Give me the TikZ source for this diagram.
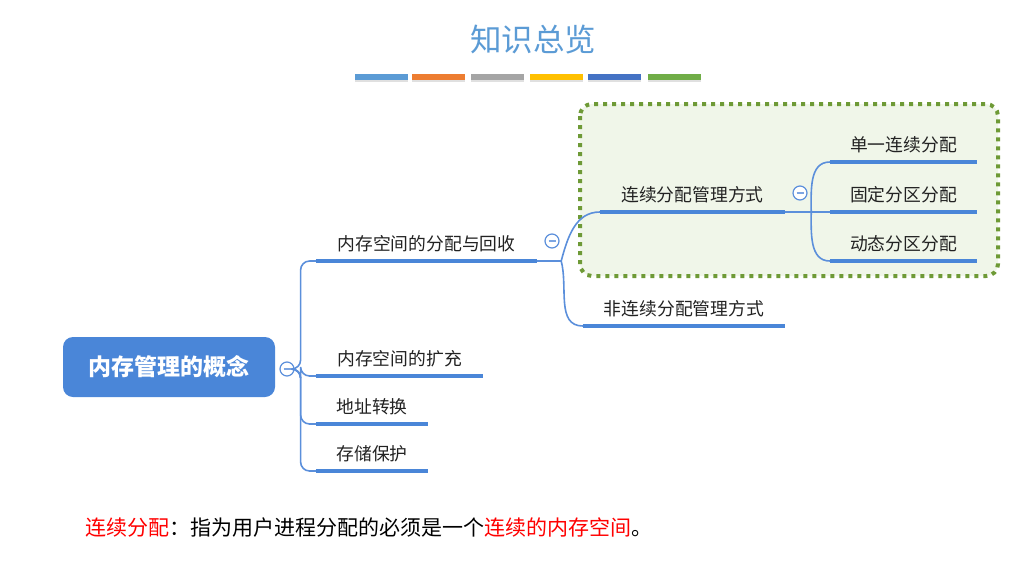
\documentclass[tikz,border=0pt]{standalone}
\usepackage{fontspec}
\setmainfont{Noto Sans CJK SC}
\usetikzlibrary{positioning,calc}
\definecolor{mapblue}{HTML}{4A86D8}
\definecolor{linkblue}{HTML}{5B8FDB}
\definecolor{titleblue}{HTML}{5B9BD5}
\definecolor{boxgreen}{HTML}{6E9A36}
\definecolor{boxfill}{HTML}{F0F6E9}
\definecolor{textdark}{HTML}{222222}

\begin{document}
\begin{tikzpicture}[
  x=1pt,y=-1pt,
  line cap=butt,
  rootbox/.style={fill=mapblue,rounded corners=10pt,minimum width=212pt,minimum height=60pt,
    text=white,font=\fontsize{23}{26}\selectfont\bfseries},
  branch/.style={anchor=south,inner sep=0pt,minimum height=34pt,text=textdark,
    font=\fontsize{17.8}{20}\selectfont},
  uline/.style={draw=mapblue,line width=4pt},
  link/.style={draw=linkblue,line width=1.6pt},
  fold/.style={circle,draw=linkblue,line width=1.2pt,fill=white,minimum size=14pt,inner sep=0pt,
    path picture={\draw[linkblue!80,line width=1.2pt] ([xshift=-3.5pt]path picture bounding box.center) -- ([xshift=3.5pt]path picture bounding box.center);}},
  groupbox/.style={draw=boxgreen,fill=boxfill,line width=4pt,rounded corners=12pt,dash pattern=on 4pt off 5pt},
  bar/.style={minimum width=53pt,minimum height=6pt,inner sep=0pt}
]%
  \useasboundingbox (0,0) rectangle (1022,562);

  % title
  \node[text=titleblue,font=\fontsize{31.5}{34}\selectfont] (title) at (533,40) {知识总览};
  \foreach \x/\c [count=\i] in {381/5B9BD5,438/ED7D31,497/A5A5A5,556/FFC000,614/4472C4,674/70AD47}{
    \definecolor{barc}{HTML}{\c}
    \fill[black,opacity=0.12] (\x-26,79) rectangle (\x+27,82);
    \node[bar,fill=barc] (bar\i) at (\x,77) {};
  }

  % dotted frame
  \draw[groupbox] (580,104) rectangle (998,276);

  % root
  \node[rootbox] (root) at (169,367) {内存管理的概念};
  \node[fold] (c1) at (287,369) {};

  % first level
  \node[branch,minimum width=221pt] (alloc) at (426.5,261) {内存空间的分配与回收};
  \node[branch,minimum width=167pt] (expand) at (399.5,376) {内存空间的扩充};
  \node[branch,minimum width=112pt] (addr) at (372,424) {地址转换};
  \node[branch,minimum width=112pt] (prot) at (372,471) {存储保护};

  \foreach \n in {alloc,expand,addr,prot}
    \draw[link,rounded corners=9pt] (c1.east) -- ++(6,0) |- (\n.south west);

  % second level
  \node[fold] (c2) at (552,241) {};
  \node[branch,minimum width=185pt] (cont) at (692.5,212) {连续分配管理方式};
  \node[branch,minimum width=202pt] (noncont) at (684,326) {非连续分配管理方式};
  \draw[link] (alloc.south east) -- ++(24,0) coordinate (s1);
  \draw[link] (s1) to[out=75,in=180] (cont.south west);
  \draw[link] (s1) to[out=-75,in=180] (noncont.south west);

  % third level
  \node[fold] (c3) at (800,193) {};
  \node[branch,minimum width=147pt] (single) at (903.5,162) {单一连续分配};
  \node[branch,minimum width=147pt] (fixed) at (903.5,212) {固定分区分配};
  \node[branch,minimum width=147pt] (dyn) at (903.5,261) {动态分区分配};
  \draw[link] (cont.south east) -- (fixed.south west);
  \coordinate (s2) at ($(cont.south east)+(26,0)$);
  \draw[link] (s2) to[out=90,in=180] (single.south west);
  \draw[link] (s2) to[out=-90,in=180] (dyn.south west);

  \foreach \n in {alloc,expand,addr,prot,cont,noncont,single,fixed,dyn}
    \draw[uline] (\n.south west) -- (\n.south east);

  % note
  \node[anchor=west,inner sep=0pt,font=\fontsize{21}{24}\selectfont] (note) at (85,528)
    {\textcolor{red}{连续分配}：指为用户进程分配的必须是一个\textcolor{red}{连续的内存空间}。};
\end{tikzpicture}
\end{document}
